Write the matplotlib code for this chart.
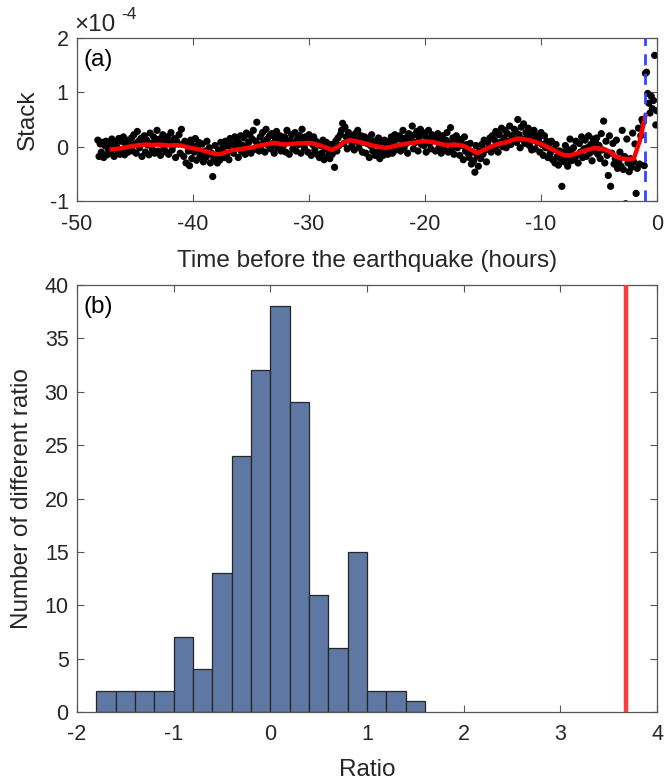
import numpy as np
import matplotlib
matplotlib.use("Agg")
import matplotlib.pyplot as plt

plt.rcParams['font.family'] = ['Liberation Sans', 'DejaVu Sans']
plt.rcParams['axes.unicode_minus'] = False

# ---------------- Panel (a) data (stack, units of 1e-4) ----------------
t_start = -48.2   # hours
t_step = 0.1
stack_vals = [
    0.12, -0.18, 0.05, -0.10, 0.08, -0.20, 0.02, 0.10, -0.15, -0.05,
    0.06, -0.12, 0.14, -0.02, -0.18, 0.09, 0.01, -0.08, 0.15, -0.14,
    0.10, -0.06, 0.18, -0.15, 0.04, 0.12, -0.10, 0.07, -0.03, 0.16,
    -0.08, 0.22, 0.05, -0.12, 0.28, 0.10, -0.02, 0.15, -0.18, 0.08,
    0.20, -0.10, 0.12, 0.03, -0.15, 0.25, 0.06, -0.05, 0.18, -0.12,
    0.10, 0.30, -0.08, 0.14, -0.16, 0.05, 0.22, -0.04, 0.12, -0.10,
    0.18, -0.14, 0.08, 0.26, -0.06, 0.02, 0.15, -0.20, 0.10, 0.05,
    0.22, -0.12, 0.32, 0.04, -0.18, 0.10, -0.30, 0.06, -0.08, -0.35,
    0.12, -0.22, 0.02, -0.10, 0.15, -0.25, -0.04, 0.08, -0.18, -0.12,
    0.05, -0.28, -0.08, -0.20, 0.10, -0.15, -0.02, -0.30, -0.12, -0.55,
    -0.22, 0.02, -0.18, -0.30, -0.06, -0.25, 0.08, -0.14, -0.02, -0.20,
    0.10, -0.16, 0.02, -0.24, 0.15, -0.08, 0.05, -0.12, 0.18, -0.02,
    0.12, -0.20, 0.06, 0.20, -0.10, 0.02, 0.16, -0.14, 0.25, -0.04,
    0.08, 0.22, -0.12, 0.14, 0.30, -0.05, 0.10, 0.45, 0.04, -0.08,
    0.18, -0.06, 0.26, 0.08, -0.10, 0.32, 0.14, 0.02, 0.20, -0.04,
    0.24, 0.06, -0.12, 0.16, 0.28, -0.02, 0.10, 0.20, -0.08, 0.14,
    0.02, 0.18, -0.10, 0.30, 0.08, -0.14, 0.12, 0.22, -0.04, 0.06,
    0.26, -0.08, 0.14, 0.04, 0.20, -0.12, 0.32, 0.10, -0.02, 0.18,
    0.08, -0.10, 0.22, 0.12, -0.16, 0.04, 0.18, -0.06, 0.10, -0.14,
    0.06, -0.20, 0.02, -0.12, 0.12, -0.24, -0.04, 0.08, -0.18, -0.08,
    -0.22, 0.04, -0.14, -0.02, -0.38, 0.10, -0.08, 0.16, 0.02, 0.22,
    0.30, 0.43, 0.06, 0.36, 0.18, -0.04, 0.26, 0.12, 0.20, 0.02,
    0.16, -0.06, 0.24, 0.10, 0.30, -0.02, 0.14, 0.20, -0.10, 0.08,
    0.18, -0.12, 0.06, 0.14, -0.20, 0.02, 0.22, -0.08, 0.10, -0.16,
    0.04, -0.10, 0.16, -0.22, -0.04, 0.08, -0.16, 0.12, -0.06, 0.02,
    -0.14, 0.10, -0.04, 0.18, -0.12, 0.06, 0.22, -0.06, 0.14, 0.00,
    0.20, -0.08, 0.12, 0.30, -0.02, 0.16, 0.06, -0.12, 0.24, 0.10,
    0.14, 0.38, -0.04, 0.22, 0.08, 0.28, -0.08, 0.18, 0.32, 0.04,
    0.26, 0.02, 0.20, -0.10, 0.14, 0.30, 0.06, -0.04, 0.22, 0.12,
    0.18, -0.08, 0.10, 0.24, -0.02, 0.14, -0.12, 0.20, 0.04, -0.06,
    0.12, 0.26, -0.10, 0.06, 0.35, -0.04, 0.16, -0.14, 0.08, 0.20,
    -0.02, 0.14, -0.16, 0.10, 0.02, -0.24, 0.18, -0.08, 0.04, -0.12,
    -0.20, 0.06, -0.32, -0.10, -0.26, -0.47, 0.02, -0.16, -0.36, -0.08,
    -0.22, 0.04, -0.14, 0.12, -0.06, -0.28, 0.08, -0.02, 0.16, -0.10,
    0.20, -0.04, 0.12, 0.28, 0.02, -0.10, 0.22, 0.08, 0.34, 0.00,
    0.16, 0.30, -0.02, 0.24, 0.10, 0.38, 0.04, 0.20, 0.14, 0.32,
    0.28, 0.08, 0.50, 0.22, -0.02, 0.36, 0.14, 0.42, 0.06, 0.26,
    0.18, 0.34, 0.02, 0.24, -0.06, 0.12, 0.30, -0.04, 0.20, 0.08,
    0.14, -0.10, 0.26, 0.04, -0.16, 0.20, -0.02, 0.10, -0.20, 0.06,
    -0.12, 0.10, -0.24, -0.04, -0.30, 0.04, -0.18, -0.34, -0.08, -0.22,
    -0.73, -0.10, -0.28, 0.02, -0.20, -0.36, -0.06, 0.14, -0.26, -0.14,
    -0.02, -0.24, 0.10, -0.16, -0.30, 0.06, -0.10, 0.18, -0.20, -0.04,
    0.12, -0.18, -0.02, 0.20, -0.12, 0.04, -0.26, 0.14, -0.08, 0.08,
    0.16, -0.14, 0.02, -0.22, 0.24, -0.06, 0.47, -0.30, 0.10, -0.16,
    -0.53, 0.20, -0.73, -0.12, 0.06, -0.32, -0.22, 0.12, -0.40, -0.28,
    -0.10, -0.36, 0.30, -0.42, -0.18, -1.05, 0.14, -0.30, -0.46, -0.22,
    -0.38, 0.25, -0.28, 0.05, -0.86, -0.40, 0.34, -0.32, 0.20, 0.50,
    0.45, -0.35, 1.35, 1.37, 0.98, 0.80, 0.62, 0.93, 0.70, 0.85,
    1.68, 0.40, 0.66,
]

# smoothed curve (units of 1e-4), every 0.5 h from -47 to -1
curve_start = -47.0
curve_step = 0.5
curve_vals = [
    -0.05, -0.04, -0.02, 0.00, 0.02, 0.03, 0.04, 0.03, 0.04, 0.03,
    0.02, 0.03, 0.02, -0.01, -0.03, -0.05, -0.08, -0.11, -0.14, -0.13,
    -0.09, -0.06, -0.05, -0.03, -0.02, 0.01, 0.03, 0.05, 0.07, 0.05,
    0.04, 0.05, 0.06, 0.06, 0.07, 0.05, 0.02, -0.02, -0.06, 0.00,
    0.08, 0.12, 0.10, 0.08, 0.05, 0.02, 0.00, -0.02, -0.01, 0.02,
    0.04, 0.06, 0.07, 0.09, 0.10, 0.09, 0.07, 0.04, 0.03, 0.04,
    0.03, 0.00, -0.06, -0.12, -0.07, -0.02, 0.03, 0.06, 0.08, 0.12,
    0.15, 0.14, 0.12, 0.09, 0.05, 0.00, -0.05, -0.11, -0.16, -0.16,
    -0.13, -0.09, -0.06, -0.03, -0.03, -0.05, -0.10, -0.19, -0.22, -0.23,
    -0.22, 0.10, 0.57,
]
event_time = -1.0  # hours

# ---------------- Panel (b) data ----------------
bin_edges = [-1.8, -1.6, -1.4, -1.2, -1.0, -0.8, -0.6, -0.4, -0.2, 0.0,
             0.2, 0.4, 0.6, 0.8, 1.0, 1.2, 1.4, 1.6]
counts = [2, 2, 2, 2, 7, 4, 13, 24, 32, 38, 29, 11, 6, 15, 2, 2, 1]
observed_ratio = 3.68

# ---------------- Figure ----------------
fig = plt.figure(figsize=(6.67, 7.83), dpi=100)
W, H = 667, 783
def axrect(l, t, r, b):
    return [l / W, 1 - b / H, (r - l) / W, (b - t) / H]

axis_col = '#262626'
fs = 15.5
lfs = 17.5

def style(ax):
    for s in ax.spines.values():
        s.set_color('#555555')
        s.set_linewidth(0.9)
    ax.tick_params(direction='in', top=True, right=True, length=5,
                   width=0.8, colors='#555555', labelcolor=axis_col,
                   labelsize=fs)
    ax.tick_params(axis='x', pad=9)
    ax.tick_params(axis='y', pad=6)

# panel a
ax1 = fig.add_axes(axrect(77, 38, 657, 201))
t = t_start + t_step * np.arange(len(stack_vals))
ax1.scatter(t, stack_vals, s=27, c='black', edgecolors='none', zorder=2)
tc = curve_start + curve_step * np.arange(len(curve_vals))
ax1.plot(tc, curve_vals, color='#ff0000', lw=3.2, zorder=3)
ax1.axvline(event_time, color='#3344ff', lw=2.0, ls=(0, (4, 3)), zorder=4)
ax1.set_xlim(-50, 0)
ax1.set_ylim(-1, 2)
ax1.set_xticks([-50, -40, -30, -20, -10, 0])
ax1.set_yticks([-1, 0, 1, 2])
ax1.set_xlabel('Time before the earthquake (hours)', fontsize=lfs,
               color=axis_col, labelpad=11)
ax1.set_ylabel('Stack', fontsize=lfs, color=axis_col, labelpad=8)
ax1.text(0.012, 0.93, '(a)', transform=ax1.transAxes, fontsize=lfs,
         va='top', ha='left', color='black')
ax1.text(-0.005, 1.015, '×10', transform=ax1.transAxes, fontsize=fs + 2,
         va='bottom', ha='left', color=axis_col)
ax1.text(0.077, 1.10, '-4', transform=ax1.transAxes, fontsize=fs - 3,
         va='bottom', ha='left', color=axis_col)
style(ax1)

# panel b
ax2 = fig.add_axes(axrect(77, 285, 657, 712))
widths = np.diff(bin_edges)
ax2.bar(bin_edges[:-1], counts, width=widths, align='edge',
        color='#5f77a3', edgecolor='#262626', linewidth=0.9, zorder=2)
ax2.axvline(observed_ratio, color='#ff3b3b', lw=3.2, zorder=3)
ax2.set_xlim(-2, 4)
ax2.set_ylim(0, 40)
ax2.set_xticks([-2, -1, 0, 1, 2, 3, 4])
ax2.set_yticks(range(0, 41, 5))
ax2.set_xlabel('Ratio', fontsize=lfs, color=axis_col, labelpad=10)
ax2.set_ylabel('Number of different ratio', fontsize=lfs,
               color=axis_col, labelpad=8)
ax2.text(0.012, 0.975, '(b)', transform=ax2.transAxes, fontsize=lfs,
         va='top', ha='left', color='black')
style(ax2)

fig.savefig('out.png', dpi=100)
